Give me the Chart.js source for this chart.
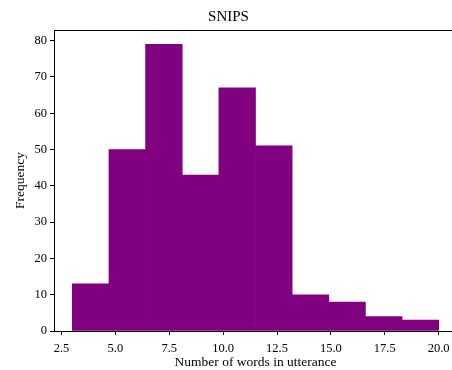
<!DOCTYPE html>
<html lang="en">
<head>
  <meta charset="UTF-8" />
  <title>SNIPS</title>
  <script src="https://cdn.jsdelivr.net/npm/chart.js"></script>
  <style>
    html, body { margin: 0; padding: 0; background: #fff; overflow: hidden; }
    #wrap { position: absolute; left: 0; top: 0; width: 460px; height: 370px; }
  </style>
</head>
<body>
  <div id="wrap"><canvas id="hist" width="460" height="370"></canvas></div>

  <script>
    // histogram data
    const binEdges = [3, 4.7, 6.4, 8.1, 9.8, 11.5, 13.2, 14.9, 16.6, 18.3, 20];
    const counts = [13, 50, 79, 43, 67, 51, 10, 8, 4, 3];
    const xTicks = [2.5, 5.0, 7.5, 10.0, 12.5, 15.0, 17.5, 20.0];
    const yTicks = [0, 10, 20, 30, 40, 50, 60, 70, 80];

    const points = counts.map((c, i) => ({ x: (binEdges[i] + binEdges[i + 1]) / 2, y: c }));
    const span = binEdges[binEdges.length - 1] - binEdges[0];
    const family = "'Liberation Serif', 'DejaVu Serif', serif";
    const tickFont = { family, size: 12.5 };
    const labelFont = { family, size: 13.5 };

    const topSpine = {
      id: 'topSpine',
      afterDraw(chart) {
        const { ctx, chartArea } = chart;
        ctx.save();
        ctx.strokeStyle = '#000';
        ctx.lineWidth = 1;
        ctx.beginPath();
        ctx.moveTo(chartArea.left, chartArea.top + 0.5);
        ctx.lineTo(chartArea.right, chartArea.top + 0.5);
        ctx.stroke();
        ctx.restore();
      }
    };

    Chart.defaults.color = '#000';

    new Chart(document.getElementById('hist'), {
      type: 'bar',
      data: {
        datasets: [{
          data: points,
          backgroundColor: '#800080',
          borderWidth: 0,
          barPercentage: 1.0,
          categoryPercentage: 1.0
        }]
      },
      options: {
        responsive: false,
        animation: false,
        layout: { padding: { left: 0, right: 3, top: 0, bottom: 0 } },
        plugins: {
          legend: { display: false },
          tooltip: { enabled: false },
          title: {
            display: true,
            text: 'SNIPS',
            font: { family, size: 15, weight: 'normal' },
            padding: { top: 8, bottom: 4 }
          }
        },
        scales: {
          x: {
            type: 'linear',
            offset: false,
            min: binEdges[0] - span * 0.05,
            max: binEdges[binEdges.length - 1] + span * 0.05,
            afterBuildTicks: s => { s.ticks = xTicks.map(v => ({ value: v })); },
            afterFit: s => { s.height = 39; },
            ticks: { font: tickFont, padding: 6, maxRotation: 0, callback: v => v.toFixed(1) },
            grid: { offset: false, drawOnChartArea: false, drawTicks: true, tickLength: 4, color: '#000' },
            border: { display: true, color: '#000', width: 1 },
            title: { display: true, text: 'Number of words in utterance', font: labelFont, padding: { top: 0, bottom: -1 } }
          },
          y: {
            min: 0,
            max: Math.max(...counts) * 1.05,
            afterBuildTicks: s => { s.ticks = yTicks.map(v => ({ value: v })); },
            afterFit: s => { s.width = 54; },
            ticks: { font: tickFont, padding: 3 },
            grid: { drawOnChartArea: false, drawTicks: true, tickLength: 4, color: '#000' },
            border: { display: true, color: '#000', width: 1 },
            title: { display: true, text: 'Frequency', font: labelFont, padding: { top: 12, bottom: 4 } }
          }
        }
      },
      plugins: [topSpine]
    });
  </script>
</body>
</html>
